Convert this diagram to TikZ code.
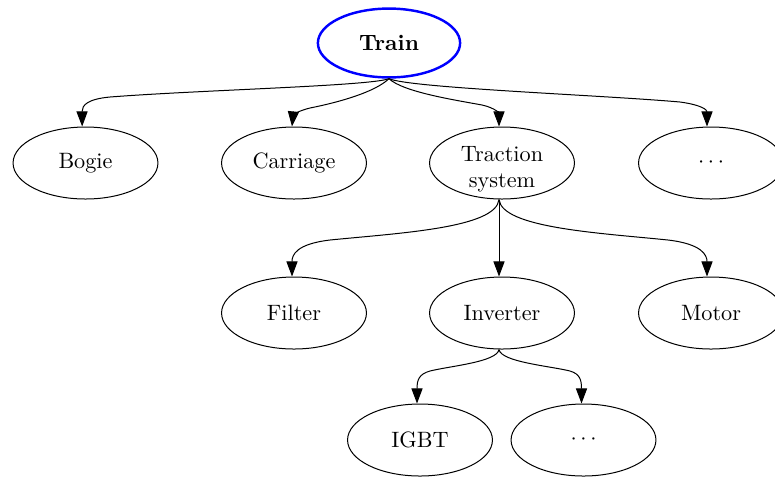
\documentclass[tikz,border=0pt]{standalone}
\usetikzlibrary{shapes.geometric,arrows.meta}
\tikzset{
  ent/.style={ellipse,draw,line width=0.45pt,minimum width=65.2pt,minimum height=32.4pt,inner sep=0pt,font=\normalsize},
  rootent/.style={ent,draw=blue,line width=1.1pt,minimum width=64pt,minimum height=31pt,font=\bfseries},
  edge/.style={line width=0.45pt,-{Triangle[length=6.8pt,width=5pt]}}
}
\begin{document}
\begin{tikzpicture}[x=0.45pt,y=-0.45pt]
\useasboundingbox (0,0) rectangle (775,477);
\node[rootent] (train) at (389,43) {Train};
\node[ent] (bogie) at (85.5,163) {Bogie};
\node[ent] (carriage) at (294,163) {Carriage};
\node[ent] (traction) at (502,163) {\raisebox{0.9pt}[0pt][0pt]{\begin{tabular}[t]{@{}c@{}}Traction\\system\end{tabular}}};
\node[ent] (dotsa) at (711,163) {$\cdots$};
\node[ent] (filter) at (294,313) {Filter};
\node[ent] (inverter) at (502,313) {Inverter};
\node[ent] (motor) at (711,313) {Motor};
\node[ent] (igbt) at (420,440) {IGBT};
\node[ent] (dotsb) at (583.5,440) {$\cdots$};

\draw[edge] (train.south) .. controls (370,86) and (200,90) .. (110,97) .. controls (88,99) and (82,105) .. ([xshift=-1.5pt]bogie.north);
\draw[edge] (train.south) .. controls (375,92) and (340,102) .. (310,108) .. controls (297,111) and (293,116) .. ([xshift=-0.9pt]carriage.north);
\draw[edge] (train.south) .. controls (403,92) and (455,100) .. (482,105) .. controls (496,108) and (499,114) .. ([xshift=-1.35pt]traction.north);
\draw[edge] (train.south) .. controls (410,88) and (600,95) .. (680,102) .. controls (702,105) and (707,110) .. ([xshift=-1.8pt]dotsa.north);

\draw[edge] ([xshift=-1.35pt]traction.south) .. controls (496,228) and (400,233) .. (330,240) .. controls (296,244) and (292,255) .. ([xshift=-0.9pt]filter.north);
\draw[edge] ([xshift=-1.35pt]traction.south) -- ([xshift=-1.35pt]inverter.north);
\draw[edge] ([xshift=-1.35pt]traction.south) .. controls (502,228) and (600,233) .. (668,240) .. controls (702,244) and (707,255) .. ([xshift=-1.8pt]motor.north);

\draw[edge] ([xshift=-1.35pt]inverter.south) .. controls (497,362) and (450,366) .. (430,371) .. controls (419,374) and (417,380) .. ([xshift=-1.35pt]igbt.north);
\draw[edge] ([xshift=-1.35pt]inverter.south) .. controls (501,362) and (550,366) .. (570,371) .. controls (580,374) and (581.5,380) .. ([xshift=-0.9pt]dotsb.north);
\end{tikzpicture}
\end{document}
